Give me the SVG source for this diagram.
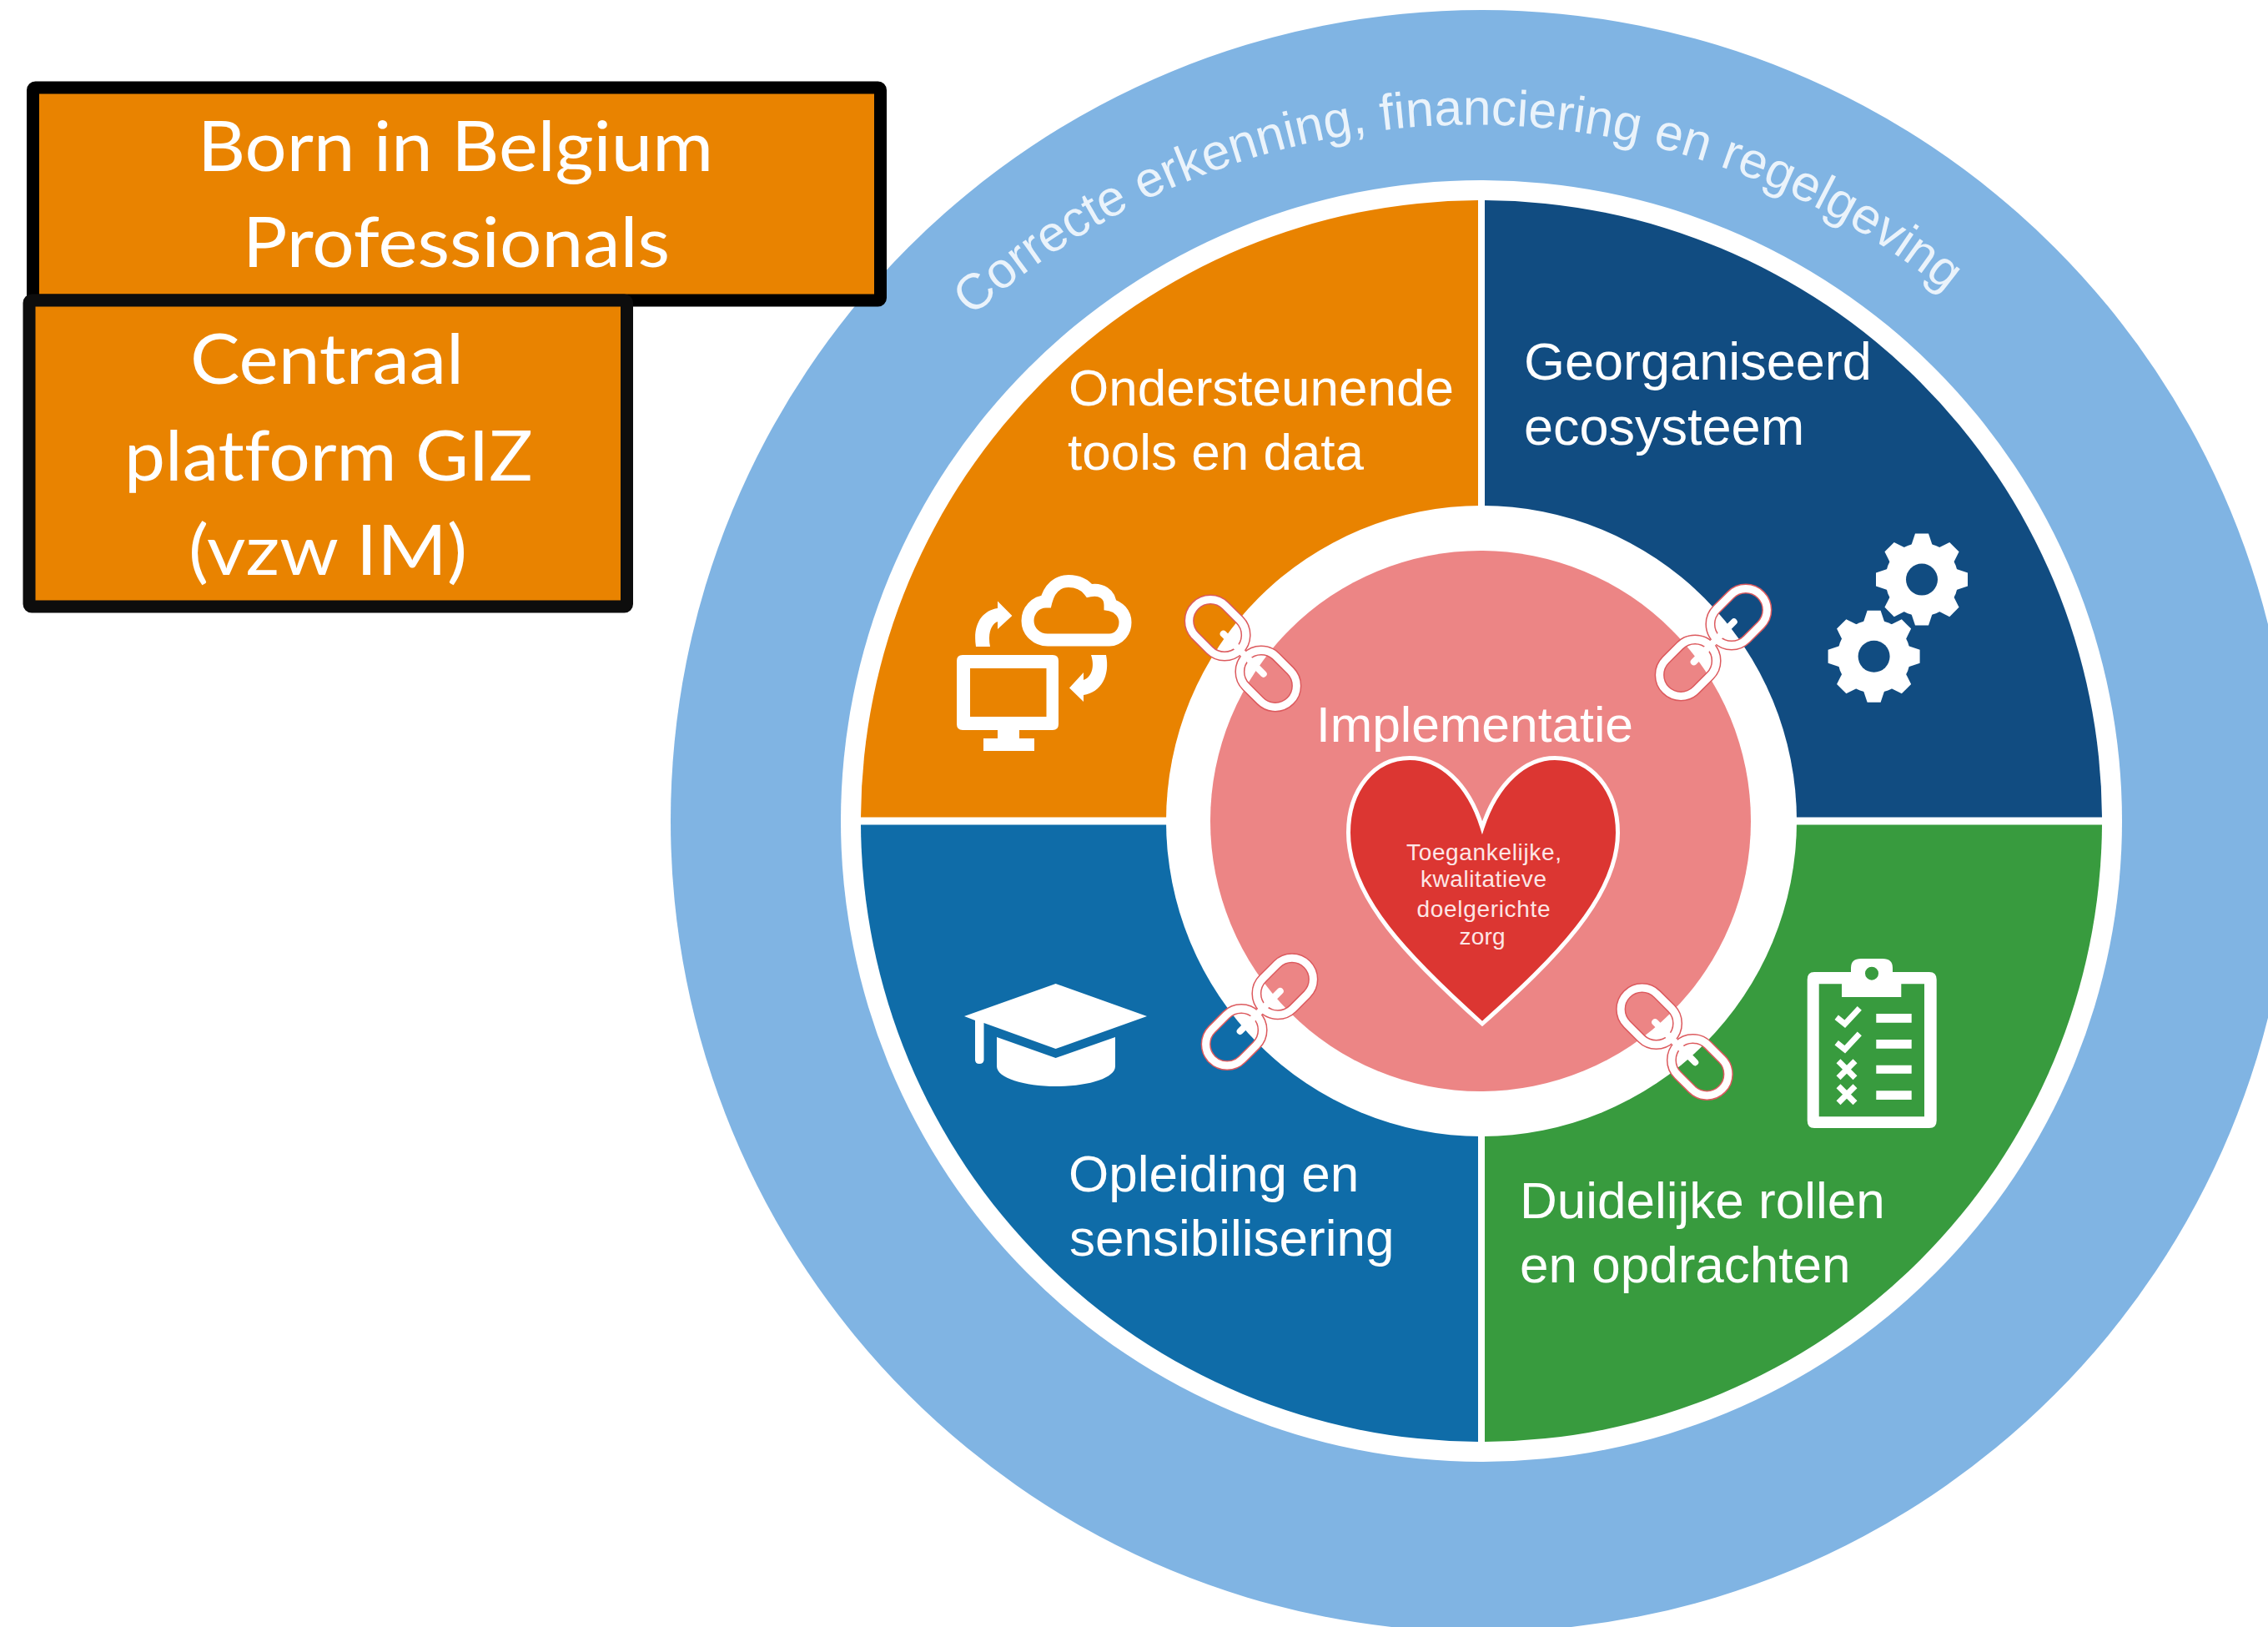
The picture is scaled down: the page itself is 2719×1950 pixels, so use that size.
<svg xmlns="http://www.w3.org/2000/svg" xmlns:xlink="http://www.w3.org/1999/xlink" width="2719" height="1950" viewBox="0 0 2719 1950">
<style>
.sec{font-family:"Liberation Sans",Arial,sans-serif;font-size:62px;fill:#fff}
.box{font-family:Lato,"Liberation Sans",sans-serif;font-size:84px;fill:#fff;font-variant-ligatures:none}
.hrt{font-family:"Liberation Sans",Arial,sans-serif;font-size:28px;fill:#fde6e6}
.ico{fill:#fff}
.lnk{fill:none;stroke:#fff;stroke-width:9}
.lnkh{fill:none;stroke:#dc5a5e;stroke-width:12}
</style>
<defs>
<g id="chain">
<rect class="lnkh" x="-80.500" y="-25.500" width="75" height="51" rx="25.500"/>
<rect class="lnkh" x="5.500" y="-25.500" width="75" height="51" rx="25.500"/>
<rect class="lnk" x="-80.500" y="-25.500" width="75" height="51" rx="25.500"/>
<rect class="lnk" x="5.500" y="-25.500" width="75" height="51" rx="25.500"/>
<line x1="-33" y1="0" x2="35" y2="0" stroke="#fff" stroke-width="8" stroke-linecap="round"/>
</g>
<g id="gear">
<circle r="44" fill="#fff"/>
<g fill="#fff">
<path d="M-13-40L-8-55H8L13-40Z"/>
<path d="M-13-40L-8-55H8L13-40Z" transform="rotate(45)"/>
<path d="M-13-40L-8-55H8L13-40Z" transform="rotate(90)"/>
<path d="M-13-40L-8-55H8L13-40Z" transform="rotate(135)"/>
<path d="M-13-40L-8-55H8L13-40Z" transform="rotate(180)"/>
<path d="M-13-40L-8-55H8L13-40Z" transform="rotate(225)"/>
<path d="M-13-40L-8-55H8L13-40Z" transform="rotate(270)"/>
<path d="M-13-40L-8-55H8L13-40Z" transform="rotate(315)"/>
</g>
<circle r="19" fill="#114c81"/>
</g>
<path id="arc" d="M1165 380A900 900 0 0 1 2345 360"/>
</defs>
<rect width="2719" height="1950" fill="#fff"/>
<g id="ring">
<circle cx="1776" cy="984" r="972" fill="#80b4e3"/>
<circle cx="1776" cy="984" r="768" fill="#fff"/>
<text font-family="Liberation Sans, Arial, sans-serif" font-size="60.500" fill="#eaf3fb"><textPath href="#arc" xlink:href="#arc">Correcte erkenning, financiering en regelgeving</textPath></text>
</g>
<g id="sector-orange">
<path d="M1772 240A744 744 0 0 0 1032 979.500H1772Z" fill="#e98300"/>
<text class="sec" x="1281" y="486">Ondersteunende</text>
<text class="sec" x="1280" y="563">tools en data</text>
<path class="ico" fill-rule="evenodd" d="M1154 785H1262Q1269 785 1269 792V868Q1269 875 1262 875H1222V885H1240V900H1179V885H1196V875H1154Q1147 875 1147 868V792Q1147 785 1154 785ZM1163 801V859H1254.500V801Z"/>
<path d="M1256 767H1330C1341 767 1349 757 1349 746C1349 735 1341 727 1331 725C1331 712 1320 705 1306 708C1300 700 1291 696.500 1281 696.500C1268 696.500 1258 705 1254 721C1241 721 1232 732 1232 744C1232 757 1243 767 1256 767Z" fill="none" stroke="#fff" stroke-width="15"/>
<path class="ico" d="M1170 775C1166 750 1176 732 1196 729V720.500L1213.400 738L1196 754V745C1188 748 1184 760 1187 775Z"/>
<path class="ico" d="M1326 785C1331 810 1320 830 1299 833V841L1282 824.500L1299 806V815C1308 812 1313 800 1308 785Z"/>
</g>
<g id="sector-darkblue">
<path d="M1780 240A744 744 0 0 1 2520 979.500H1780Z" fill="#114c81"/>
<text class="sec" x="1827" y="455" style="font-size:63px">Georganiseerd</text>
<text class="sec" x="1827" y="533" style="font-size:63px">ecosysteem</text>
<use href="#gear" xlink:href="#gear" x="2304" y="694.600"/>
<use href="#gear" xlink:href="#gear" x="2246.600" y="786.800"/>
</g>
<g id="sector-blue">
<path d="M1772 1728A744 744 0 0 1 1032 988.500H1772Z" fill="#0f6ca8"/>
<text class="sec" x="1281" y="1428">Opleiding en</text>
<text class="sec" x="1282" y="1505">sensibilisering</text>
<path class="ico" d="M1156 1218L1265.600 1179L1375 1218L1265.600 1257L1179.500 1226V1270Q1179.500 1275 1174 1275Q1169 1275 1169 1270V1223Z"/>
<path class="ico" d="M1195 1243L1265.600 1268L1337 1243V1278C1337 1292 1305 1302 1266 1302C1228 1302 1195 1292 1195 1278Z"/>
</g>
<g id="sector-green">
<path d="M1780 1728A744 744 0 0 0 2520 988.500H1780Z" fill="#389b3e"/>
<text class="sec" x="1822" y="1460">Duidelijke rollen</text>
<text class="sec" x="1822" y="1537">en opdrachten</text>
<path class="ico" fill-rule="evenodd" d="M2175 1165H2219V1160Q2219 1149 2231 1149H2257Q2269 1149 2269 1160V1165H2313Q2321.700 1165 2321.700 1174V1343Q2321.700 1352 2313 1352H2175Q2166.700 1352 2166.700 1343V1174Q2166.700 1165 2175 1165ZM2180.700 1179.300V1338.300H2307V1179.300H2279.300V1195H2208V1179.300ZM2244 1158.700A8 8 0 1 0 2244 1174.700A8 8 0 1 0 2244 1158.700Z"/>
<path d="M2201.700 1219.300L2211.700 1227.300L2229.300 1208.300M2201.700 1249.800L2211.700 1257.800L2229.300 1238.800M2204 1271.700L2224 1291.700M2224 1271.700L2204 1291.700M2204 1301.700L2224 1321.700M2224 1301.700L2204 1321.700" fill="none" stroke="#fff" stroke-width="7"/>
<path class="ico" d="M2249.300 1215H2291.700V1225.700H2249.300ZM2249.300 1246H2291.700V1256.700H2249.300ZM2249.300 1276.700H2291.700V1286.700H2249.300ZM2249.300 1307.300H2291.700V1318H2249.300Z"/>
</g>
<g id="center">
<circle cx="1776" cy="984" r="378" fill="#fff"/>
<circle cx="1775" cy="984" r="324" fill="#ec8585"/>
<text font-family="Liberation Sans, Arial, sans-serif" font-size="60" fill="#fff" x="1578" y="889" textLength="380" lengthAdjust="spacingAndGlyphs">Implementatie</text>
</g>
<g id="heart">
<path d="M1777 992C1760 937 1725 908.500 1690 908.500C1647 908.500 1616.500 947 1616.500 998C1616.500 1075 1690 1149 1777 1227C1864 1149 1939.500 1075 1939.500 998C1939.500 947 1908 908.500 1864 908.500C1830 908.500 1795 937 1777 992Z" fill="#dc3632" stroke="#fff" stroke-width="5"/>
<text class="hrt" x="1686" y="1031" textLength="186">Toegankelijke,</text>
<text class="hrt" x="1703" y="1063" textLength="151">kwalitatieve</text>
<text class="hrt" x="1698.500" y="1099" textLength="160">doelgerichte</text>
<text class="hrt" x="1749.500" y="1132" textLength="55">zorg</text>
</g>
<g id="connectors">
<use href="#chain" xlink:href="#chain" transform="translate(1490 783) rotate(45)"/>
<use href="#chain" xlink:href="#chain" transform="translate(2054 770) rotate(-45)"/>
<use href="#chain" xlink:href="#chain" transform="translate(1510 1212.700) rotate(-45)"/>
<use href="#chain" xlink:href="#chain" transform="translate(2007.500 1248.500) rotate(45)"/>
</g>
<g id="box-born">
<rect x="39.500" y="105" width="1016" height="255" rx="3" fill="#e98300" stroke="#000" stroke-width="15" stroke-linejoin="round"/>
<text class="box" x="237" y="205" textLength="618" lengthAdjust="spacingAndGlyphs">Born in Belgium</text>
<text class="box" x="291" y="320" textLength="512" lengthAdjust="spacingAndGlyphs">Professionals</text>
</g>
<g id="box-giz">
<rect x="35" y="360" width="716.500" height="367" rx="3" fill="#e98300" stroke="#0d0d0d" stroke-width="15" stroke-linejoin="round"/>
<text class="box" x="228" y="460" textLength="328" lengthAdjust="spacingAndGlyphs">Centraal</text>
<text class="box" x="149" y="576" textLength="490" lengthAdjust="spacingAndGlyphs">platform GIZ</text>
<text class="box" x="226" y="689" textLength="334" lengthAdjust="spacingAndGlyphs">(vzw IM)</text>
</g>
</svg>
